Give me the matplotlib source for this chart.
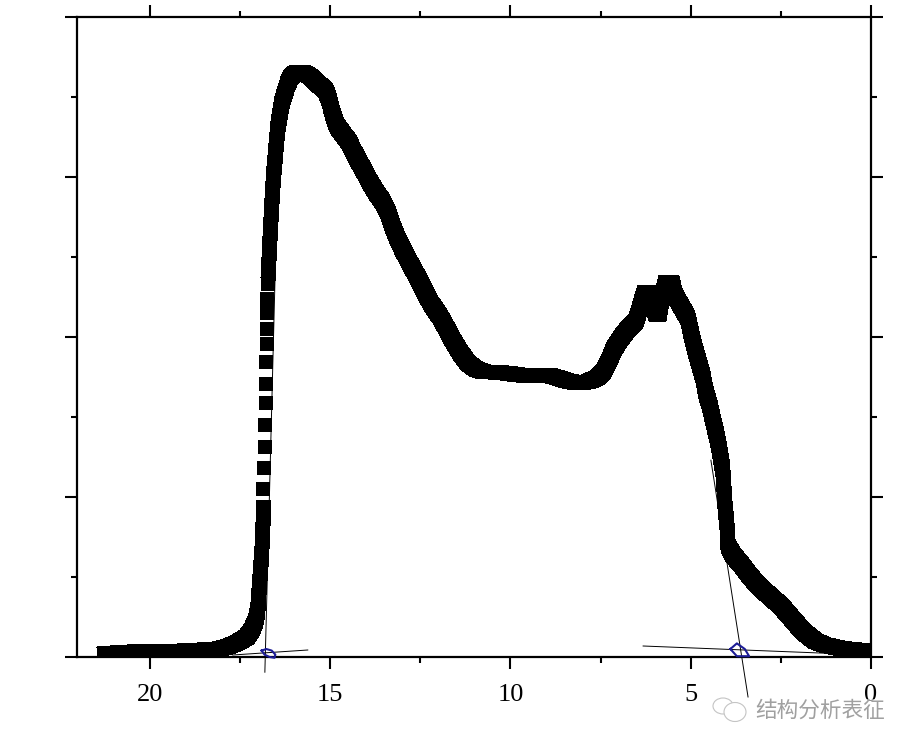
import matplotlib
matplotlib.use('Agg')
import matplotlib.pyplot as plt
from matplotlib.collections import PolyCollection
from matplotlib.patches import Ellipse
from matplotlib.ticker import MultipleLocator

# curve, in three pieces (the middle one has gaps between its points)
tail_x = [21.28, 20.69, 20.00, 19.17, 18.53, 18.11, 17.86, 17.59, 17.31, 17.17, 17.06, 17.00,
          16.98, 16.95, 16.92, 16.89, 16.87, 16.85, 16.84]
tail_y = [0.04, 0.06, 0.075, 0.075, 0.09, 0.10, 0.125, 0.175, 0.25, 0.34, 0.46, 0.61,
          0.775, 0.96, 1.15, 1.34, 1.59, 1.775, 1.875]

sparse_x = [16.85, 16.84, 16.81, 16.80, 16.78, 16.78, 16.77, 16.75, 16.75, 16.74, 16.74]
sparse_y = [2.10, 2.36, 2.625, 2.90, 3.175, 3.41, 3.69, 3.91, 4.10, 4.30, 4.475]

main_x = [16.73, 16.71, 16.69, 16.66, 16.63, 16.60, 16.57, 16.53, 16.49, 16.45, 16.39, 16.34, 16.25,
          16.17, 16.09, 15.98, 15.84, 15.70, 15.53, 15.37, 15.23, 15.12, 15.03, 14.98, 14.90, 14.81,
          14.65, 14.48, 14.34, 14.20, 14.04, 13.90, 13.73, 13.54, 13.40, 13.29, 13.15, 12.98, 12.79,
          12.59, 12.40, 12.21, 11.96, 11.76, 11.60, 11.40, 11.18, 10.96, 10.71, 10.43, 10.15, 9.74,
          9.32, 8.96, 8.68, 8.41, 8.13, 7.85, 7.60, 7.41, 7.27, 7.13, 6.93, 6.74, 6.52, 6.41, 6.32,
          6.27, 6.10, 6.05, 5.96, 5.88, 5.80, 5.69, 5.52, 5.44, 5.27, 5.08, 4.99, 4.88, 4.77, 4.66,
          4.58, 4.47, 4.38, 4.27, 4.19, 4.11, 4.08, 4.05, 3.99, 3.97, 3.83, 3.63, 3.44, 3.22, 3.00,
          2.75, 2.50, 2.25, 2.02, 1.80, 1.55, 1.28, 0.86, 0.44, 0.0]
main_y = [4.66, 4.84, 5.03, 5.30, 5.55, 5.80, 6.01, 6.21, 6.43, 6.625, 6.79, 6.925, 7.06,
          7.175, 7.25, 7.30, 7.31, 7.30, 7.25, 7.175, 7.125, 7.075, 6.975, 6.875, 6.75, 6.64,
          6.54, 6.44, 6.31, 6.19, 6.06, 5.94, 5.81, 5.69, 5.56, 5.41, 5.25, 5.09, 4.925,
          4.76, 4.59, 4.425, 4.26, 4.10, 3.96, 3.81, 3.675, 3.60, 3.56, 3.56, 3.55, 3.525,
          3.51, 3.525, 3.49, 3.45, 3.425, 3.44, 3.49, 3.575, 3.70, 3.85, 3.99, 4.10, 4.20, 4.36, 4.50,
          4.56, 4.56, 4.39, 4.275, 4.275, 4.49, 4.69, 4.69, 4.525, 4.39, 4.24, 4.05, 3.85, 3.675, 3.50,
          3.31, 3.14, 2.96, 2.75, 2.56, 2.34, 2.125, 1.90, 1.625, 1.40, 1.275, 1.175, 1.06, 0.94, 0.84,
          0.74, 0.64, 0.51, 0.39, 0.29, 0.20, 0.15, 0.11, 0.09, 0.075]

# thin construction lines
onset_x = [16.81, 16.53]
onset_y = [-0.19, 4.70]
base_left_x = [17.70, 15.62]
base_left_y = [0.025, 0.0875]
end_x = [4.44, 3.41]
end_y = [2.46, -0.50]
base_right_x = [6.32, 1.42, 0.0]
base_right_y = [0.1375, 0.05, 0.02]

# blue hand drawn marks
blob_left_x = [16.90, 16.77, 16.62, 16.52, 16.54, 16.68, 16.82, 16.90]
blob_left_y = [0.08, 0.10, 0.08, 0.03, -0.01, 0.0, 0.03, 0.08]
blob_right_x = [3.90, 3.72, 3.50, 3.38, 3.72, 3.90]
blob_right_y = [0.10, 0.17, 0.10, 0.01, 0.01, 0.10]

x_major = 5
x_minor = 2.5
mark_text = '结构分析表征'

W, H = 915, 750
SQUARE_PX = 13.5
fig = plt.figure(figsize=(W / 100, H / 100), dpi=100)
ax = fig.add_axes([77 / W, 1 - 657 / H, (871 - 77) / W, (657 - 17) / H])
ax.set_xlim(22.02, 0)
ax.set_ylim(0, 8)


def square_sweep(xs, ys):
    # the band a square pen leaves between neighbouring points: two diagonals dragged along
    hx = SQUARE_PX / 2 / (794 / 22.02)
    hy = SQUARE_PX / 2 / (640 / 8)
    polys = []
    for x0, y0, x1, y1 in zip(xs[:-1], ys[:-1], xs[1:], ys[1:]):
        for sx in (1, -1):
            polys.append([(x0 - sx * hx, y0 - hy), (x0 + sx * hx, y0 + hy),
                          (x1 + sx * hx, y1 + hy), (x1 - sx * hx, y1 - hy)])
    return polys


for xs, ys in [(tail_x, tail_y), (main_x, main_y)]:
    ax.add_collection(PolyCollection(square_sweep(xs, ys), facecolors='black', linewidths=0, antialiaseds=False))
    ax.plot(xs, ys, color='black', marker='s', ms=SQUARE_PX * 0.72, mew=0, ls='none')
ax.plot(sparse_x, sparse_y, color='black', marker='s', ms=10.2, mew=0, ls='none')

for xs, ys in [(onset_x, onset_y), (base_left_x, base_left_y), (end_x, end_y), (base_right_x, base_right_y)]:
    ax.plot(xs, ys, color='black', lw=0.7, clip_on=False, zorder=3)
for xs, ys in [(blob_left_x, blob_left_y), (blob_right_x, blob_right_y)]:
    ax.plot(xs, ys, color='#1c1c96', lw=1.5, clip_on=False, zorder=4)

ax.xaxis.set_major_locator(MultipleLocator(x_major))
ax.xaxis.set_minor_locator(MultipleLocator(x_minor))
ax.yaxis.set_major_locator(MultipleLocator(2))
ax.yaxis.set_minor_locator(MultipleLocator(1))
ax.tick_params(which='major', direction='out', length=8.4, width=1.5, top=True, right=True, labelleft=False)
ax.tick_params(which='minor', direction='out', length=4.2, width=1.5, top=True, right=True)
ax.tick_params(axis='x', which='major', pad=11, labelsize=19)
for lab in ax.get_xticklabels():
    lab.set_family('Liberation Serif')
for s in ax.spines.values():
    s.set_linewidth(1.6)

# watermark on top, pixel coordinates
ov = fig.add_axes([0, 0, 1, 1])
ov.set_xlim(0, W)
ov.set_ylim(H, 0)
ov.axis('off')
ov.patch.set_alpha(0)
ov.add_patch(Ellipse((723, 706), 20, 16, fill=False, ec='#c4c4c4', lw=0.8))
ov.add_patch(Ellipse((735, 712), 22, 19, fc='white', ec='#c4c4c4', lw=0.8))
ov.text(820.5, 711, mark_text, family=['Noto Sans CJK SC', 'DejaVu Sans'], fontsize=15.6, color='#a0a0a0',
        ha='center', va='center', bbox=dict(fc='white', ec='none', alpha=0.55, pad=0.5))

fig.savefig('out.png', dpi=100)
